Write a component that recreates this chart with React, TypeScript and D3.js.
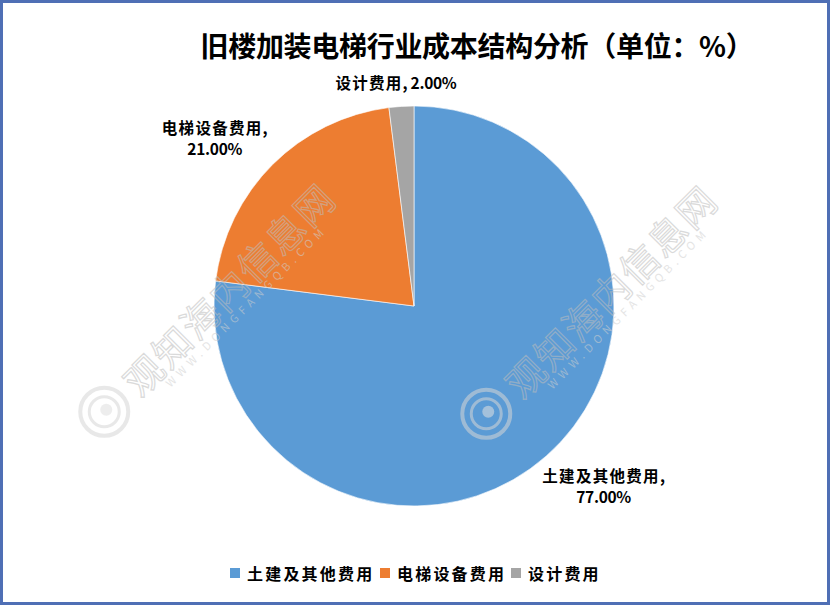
import { useMemo } from 'react';
import * as d3 from 'd3';

const W = 830;
const H = 605;

// 数据
const categories = ['土建及其他费用', '电梯设备费用', '设计费用'];
const values = [77, 21, 2];
const colors = ['#5B9BD5', '#ED7D31', '#A5A5A5'];
const title = '旧楼加装电梯行业成本结构分析（单位：%）';

const CX = 414;
const CY = 306;
const R = 200;
const FONT = '"Noto Sans CJK SC", "Noto Sans", sans-serif';

// 标签的位置微调（Excel 风格的外部标签）
const LABEL_R = [258, 262, 224];
const LABEL_NUDGE = [[19, -15], [-14, 16], [-4, 0]];

const Watermark = ({ x, y }: { x: number; y: number }) => (
  <g transform={`translate(${x}, ${y}) rotate(-45)`} opacity={0.55}>
    <text
      x={0}
      y={0}
      textAnchor="middle"
      dominantBaseline="central"
      style={{ fontFamily: FONT, fontSize: 38, fontWeight: 400, letterSpacing: 2 }}
      fill="none"
      stroke="#bdbdbd"
      strokeWidth={1.2}
    >
      观知海内信息网
    </text>
    <text
      x={0}
      y={30}
      textAnchor="middle"
      style={{ fontFamily: FONT, fontSize: 11, letterSpacing: 5 }}
      fill="#cfcfcf"
    >
      WWW.DONGFANGQB.COM
    </text>
    <g transform="translate(-175, 0) rotate(45)">
      <circle r={24} fill="none" stroke="#d6d6d6" strokeWidth={4} />
      <circle r={15} fill="none" stroke="#d6d6d6" strokeWidth={3} />
      <circle cx={2} cy={-2} r={6} fill="#e0e0e0" />
    </g>
  </g>
);

export default function App() {
  const arcs = useMemo(() => {
    return d3.pie<number>().sort(null).startAngle(0).endAngle(2 * Math.PI)(values);
  }, []);

  const arcGen = d3.arc<d3.PieArcDatum<number>>().innerRadius(0).outerRadius(R);
  const fmt = d3.format('.2f');
  const cjk = { letterSpacing: 1.3 };
  const num = { letterSpacing: -0.3 };

  return (
    <div style={{ position: 'absolute', left: 0, top: 0 }}>
      <svg width={W} height={H} style={{ display: 'block', background: '#fff' }}>
        <rect x={1.5} y={1.5} width={W - 3} height={H - 3} fill="#fff" stroke="#4F6FB5" strokeWidth={3} />

        <text
          x={477}
          y={45}
          textAnchor="middle"
          dominantBaseline="central"
          style={{ fontFamily: FONT, fontSize: 28, fontWeight: 700, letterSpacing: -0.3 }}
          fill="#000"
        >
          {title}
        </text>

        <g transform={`translate(${CX}, ${CY})`}>
          {arcs.map((a, i) => (
            <path key={i} d={arcGen(a) || ''} fill={colors[i]} stroke="#fff" strokeWidth={0.6} />
          ))}
        </g>

        {/* 数据标签 */}
        {arcs.map((a, i) => {
          const mid = (a.startAngle + a.endAngle) / 2;
          const lx = CX + Math.sin(mid) * LABEL_R[i] + LABEL_NUDGE[i][0];
          const ly = CY - Math.cos(mid) * LABEL_R[i] + LABEL_NUDGE[i][1];
          const pct = `${fmt(values[i])}%`;
          const style = { fontFamily: FONT, fontSize: 15.5, fontWeight: 700 };
          if (i === 2) {
            return (
              <text key={i} x={lx} y={ly} textAnchor="middle" dominantBaseline="central" style={style} fill="#000">
                <tspan style={cjk}>{categories[i]}</tspan>
                <tspan style={num}>{`, ${pct}`}</tspan>
              </text>
            );
          }
          return (
            <g key={i}>
              <text x={lx} y={ly - 10} textAnchor="middle" dominantBaseline="central" style={style} fill="#000">
                <tspan style={cjk}>{categories[i]}</tspan>
                <tspan>,</tspan>
              </text>
              <text x={lx} y={ly + 11} textAnchor="middle" dominantBaseline="central" style={{ ...style, ...num }} fill="#000">
                {pct}
              </text>
            </g>
          );
        })}

        <Watermark x={228} y={288} />
        <Watermark x={610} y={290} />

        {/* 图例 */}
        <g transform="translate(230, 573)">
          {categories.map((c, i) => {
            const offsets = [0, 150, 281];
            return (
              <g key={c} transform={`translate(${offsets[i]}, 0)`}>
                <rect x={0} y={-5} width={10} height={10} fill={colors[i]} />
                <text
                  x={17}
                  y={0}
                  dominantBaseline="central"
                  style={{ fontFamily: FONT, fontSize: 16, fontWeight: 700, letterSpacing: 2.2 }}
                  fill="#000"
                >
                  {c}
                </text>
              </g>
            );
          })}
        </g>
      </svg>
    </div>
  );
}
